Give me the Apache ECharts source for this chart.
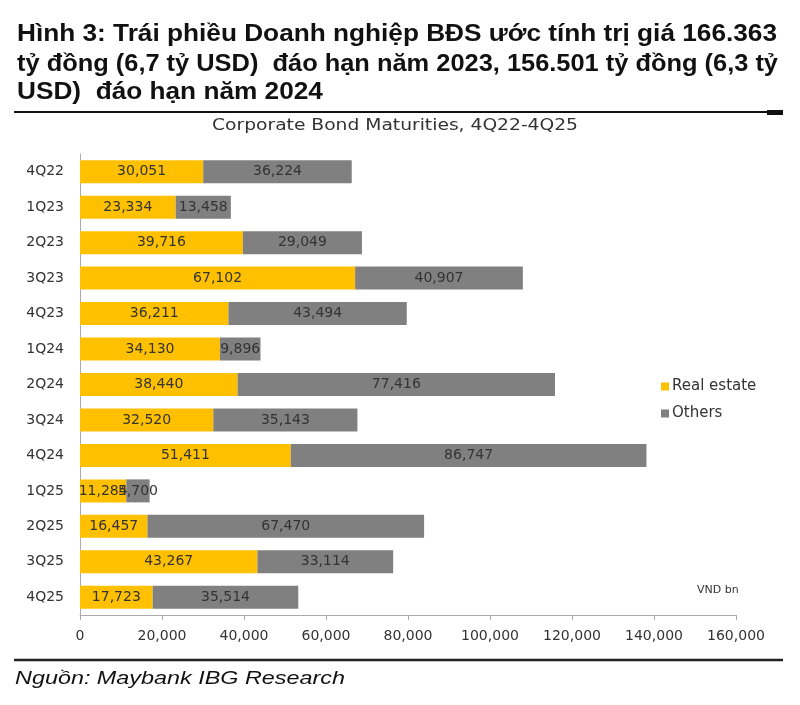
<!DOCTYPE html>
<html><head><meta charset="utf-8">
<script src="https://cdn.jsdelivr.net/npm/echarts@6/dist/echarts.min.js"></script>
<style>html,body{margin:0;padding:0;background:#fff}#c{width:800px;height:705px}</style>
</head><body><div id="c"></div>
<script>
const categories = ['4Q22','1Q23','2Q23','3Q23','4Q23','1Q24','2Q24','3Q24','4Q24','1Q25','2Q25','3Q25','4Q25'];
const realEstate = [30051,23334,39716,67102,36211,34130,38440,32520,51411,11284,16457,43267,17723];
const others = [36224,13458,29049,40907,43494,9896,77416,35143,86747,5700,67470,33114,35514];
const titleLines = [
  'Hình 3: Trái phiều Doanh nghiệp BĐS ước tính trị giá 166.363',
  'tỷ đồng (6,7 tỷ USD)  đáo hạn năm 2023, 156.501 tỷ đồng (6,3 tỷ',
  'USD)  đáo hạn năm 2024'
];
const subtitle = 'Corporate Bond Maturities, 4Q22-4Q25';
const sourceText = 'Nguồn: Maybank IBG Research';
const unitText = 'VND bn';

const fmt = v => Number(v).toLocaleString('en-US');
const ctx = document.createElement('canvas').getContext('2d');
function measure(text, font) { ctx.font = font; return ctx.measureText(text).width; }
function fitText(text, font, x, y, width, color, scale) {
  const s = scale || width / measure(text, font);
  return { type: 'text', x: x, y: y, scaleX: s, scaleY: 1, silent: true,
    style: { text: text, x: 0, y: 0, font: font, fill: color, align: 'left', verticalAlign: 'top' } };
}
const titleFont = 'bold 23px "Liberation Sans", Arial, sans-serif';
const titleScale = 760 / measure(titleLines[0], titleFont);
const srcFont = 'italic 19px "Liberation Sans", Arial, sans-serif';

const chart = echarts.init(document.getElementById('c'));
chart.setOption({
  backgroundColor: '#fff',
  animation: false,
  graphic: [
    fitText(titleLines[0], titleFont, 17, 23, 760, '#111'),
    fitText(titleLines[1], titleFont, 17, 53, 761, '#111'),
    fitText(titleLines[2], titleFont, 17, 81, 0, '#111', titleScale),
    { type: 'line', shape: { x1: 14, y1: 112, x2: 783, y2: 112 }, style: { stroke: '#111', lineWidth: 2 } },
    { type: 'rect', shape: { x: 767, y: 110, width: 16, height: 5 }, style: { fill: '#111' } },
    fitText(subtitle, '16px "DejaVu Sans", sans-serif', 212, 118, 366, '#333'),
    { type: 'text', x: 697, y: 585, silent: true,
      style: { text: unitText, font: '11px "DejaVu Sans", sans-serif', fill: '#333', verticalAlign: 'top' } },
    { type: 'line', shape: { x1: 14, y1: 660, x2: 783, y2: 660 }, style: { stroke: '#222', lineWidth: 2.5 } },
    fitText(sourceText, srcFont, 15, 669, 330, '#111')
  ],
  legend: {
    orient: 'vertical', left: 656, top: 374, itemWidth: 8, itemHeight: 8, itemGap: 12,
    icon: 'rect',
    textStyle: { fontFamily: 'DejaVu Sans', fontSize: 15, color: '#333', padding: [0, 0, 0, -2] },
    data: ['Real estate', 'Others']
  },
  grid: { left: 80, top: 154, width: 656, height: 461, containLabel: false },
  xAxis: {
    type: 'value', min: 0, max: 160000, interval: 20000,
    axisLine: { show: true, lineStyle: { color: '#aaa' } },
    axisTick: { show: true, length: 5, lineStyle: { color: '#aaa' } },
    splitLine: { show: false },
    axisLabel: { formatter: v => fmt(v), fontFamily: 'DejaVu Sans', fontSize: 14, color: '#333', margin: 14 }
  },
  yAxis: {
    type: 'category', data: categories, inverse: true,
    axisLine: { show: true, lineStyle: { color: '#aaa' } },
    axisTick: { show: false },
    axisLabel: { fontFamily: 'DejaVu Sans', fontSize: 14, color: '#333', margin: 16 }
  },
  series: [
    { name: 'Real estate', type: 'bar', stack: 't', data: realEstate, barWidth: 23,
      itemStyle: { color: '#FFC000' },
      label: { show: true, position: 'inside', formatter: p => fmt(p.value), fontFamily: 'DejaVu Sans', fontSize: 14, color: '#333' } },
    { name: 'Others', type: 'bar', stack: 't', data: others, barWidth: 23,
      itemStyle: { color: '#808080' },
      label: { show: true, position: 'inside', formatter: p => fmt(p.value), fontFamily: 'DejaVu Sans', fontSize: 14, color: '#333' } }
  ]
});
</script></body></html>
